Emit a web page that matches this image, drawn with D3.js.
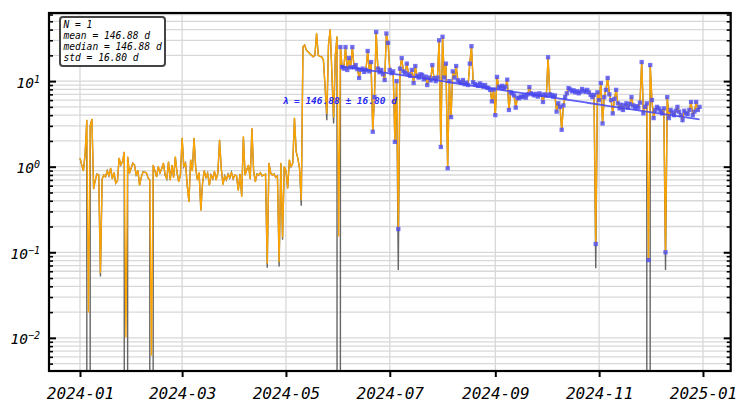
<!DOCTYPE html>
<html>
<head>
<meta charset="utf-8">
<script src="https://cdn.jsdelivr.net/npm/d3@7"></script>
<style>
  body { margin: 0; background: #fff; }
  text { font-family: "DejaVu Sans Mono", monospace; font-style: italic; }
</style>
</head>
<body>
<svg id="chart" width="739" height="405"></svg>
<script>
// Daily series, one value per day starting at seriesStart
const seriesStart = "2024-01-01";
const dailyValues = [
  1.26, 1.05, 0.9, 1.4, 3.5, 0.02, 3.0, 3.6, 0.55, 0.7,
  0.82, 0.8, 0.058, 0.72, 0.8, 0.76, 0.9, 0.78, 0.96, 0.72,
  0.85, 0.64, 0.68, 1.26, 1.05, 1.15, 1.48, 0.0103, 1.3, 0.84,
  0.95, 1.1, 1.05, 0.8, 0.9, 0.61, 0.75, 0.87, 0.86, 0.85,
  0.74, 0.7, 0.0063, 1.04, 0.9, 0.76, 1.0, 0.85, 0.95, 1.1,
  0.8, 0.72, 1.14, 0.7, 1.04, 0.75, 1.3, 0.85, 0.67, 0.8,
  2.15, 1.0, 1.1, 0.6, 0.39, 1.2, 0.9, 2.15, 0.95, 0.7,
  0.85, 0.31, 0.64, 0.9, 0.75, 0.84, 0.61, 0.8, 0.72, 0.88,
  0.7, 0.85, 2.05, 0.95, 0.62, 0.78, 0.7, 0.82, 0.74, 0.86,
  0.72, 0.8, 0.78, 0.53, 0.82, 0.45, 2.24, 0.8, 0.92, 1.04,
  0.72, 2.8, 0.9, 0.67, 0.82, 0.8, 0.85, 0.78, 0.8, 0.82,
  0.075, 1.1, 0.85, 0.8, 0.82, 0.75, 0.78, 0.078, 1.1, 0.152,
  1.0, 0.9, 0.56, 1.2, 1.0, 1.1, 3.7, 1.5, 1.25, 0.95,
  0.41, 25.2, 26.4, 23, 22, 21, 20, 19.2, 20, 36,
  20, 19.5, 19.2, 17.7, 8.6, 4.2, 26.4, 40, 12.3, 3.8,
  20, 33, 0.155, 25, 14.6, 14, 25, 13.5, 18.6, 14.5,
  25, 14.5, 15.4, 13.8, 10.9, 13.5, 14, 12.8, 13.5, 22.5,
  13, 16.7, 2.56, 6.5, 37.5, 14, 12.7, 13.5, 12, 10.3,
  36, 28, 13.5, 12.4, 13, 1.95, 10, 0.187, 14, 18.6,
  13, 12.5, 16, 12, 11.5, 13.5, 9.5, 15, 11.5, 11,
  12, 11.8, 10.5, 11.3, 9, 11, 10.2, 15.4, 10.8, 10,
  11, 30, 1.7, 33, 11, 16, 0.96, 10, 3.8, 13,
  11, 15, 10.2, 9.8, 9.5, 10.3, 9.2, 9.6, 9, 16,
  25.6, 9.7, 9.2, 9, 8.8, 9.4, 9, 8.6, 9, 8.4,
  8.3, 7.9, 5.8, 8, 4, 11.2, 8.6, 8.4, 8.8, 8.2,
  8.6, 10.4, 4.6, 7.4, 7.2, 6.8, 4.9, 6.4, 6.3, 6.6,
  6.5, 6.8, 6.4, 7, 8.5, 7.2, 7, 6.8, 7.1, 6.6,
  7.2, 6.9, 5.7, 7, 6.8, 19, 7, 6.9, 6.6, 6.8,
  4.4, 5.5, 5, 2.7, 5.2, 6.5, 7.2, 8.3, 8, 7.6,
  7.8, 7.4, 7.6, 7.2, 7.5, 8.1, 7.7, 7.5, 7.9, 7.4,
  6.9, 6.5, 6.9, 0.125, 7.4, 6, 9.5, 3.2, 6.5, 7.9,
  10.9, 7, 6, 4.2, 6.2, 7.9, 5.5, 4.8, 5.3, 4.6,
  5.2, 5.5, 4.9, 5.4, 6.5, 5.2, 4.9, 5.1, 4.9, 5.6,
  16.7, 4.2, 5, 5.5, 0.081, 15.4, 6, 3.7, 4.6, 5,
  4.8, 4.5, 4.2, 4.8, 0.1, 6.5, 3.7, 4.6, 4.3, 4.0,
  4.5, 5, 4.4, 4, 3.5, 4.5, 4.2, 4.1, 4.6, 5.7,
  4, 4.4, 5.7, 4.6, 5
];
// Raw trace: equals the daily series except on these days [dayIndex, value]
const rawDips = [
  [5, 0], [12, 0.052], [27, 0], [42, 0], [110, 0.066], [117, 0.068],
  [119, 0.14], [130, 0.35], [145, 3.5], [149, 3.2], [152, 0],
  [187, 0.062], [303, 0.065], [334, 0], [344, 0.062]
];
// Decay fit over the marked window
const fitStartDay = 153;
const fitEndDay = 364;
const fitAmplitude = 15;
const lambdaDays = 146.88;
const lambdaStd = 16.80;
const statsLines = ["N = 1", "mean = 146.88 d", "median = 146.88 d", "std = 16.80 d"];
const xTickLabels = ["2024-01", "2024-03", "2024-05", "2024-07", "2024-09", "2024-11", "2025-01"];
const yTickExponents = [-2, -1, 0, 1];

const svg = d3.select("#chart");
const plot = { left: 49, right: 730.7, top: 13, bottom: 371 };

const x = d3.scaleUtc()
  .domain([new Date(Date.UTC(2023, 11, 13, 19)), new Date(Date.UTC(2025, 0, 17, 7))])
  .range([plot.left, plot.right]);
const y = d3.scaleLog()
  .domain([0.0041, 62.5])
  .range([plot.bottom, plot.top]);
const yc = v => y(Math.max(v, 1e-300));

const t0 = d3.utcParse("%Y-%m-%d")(seriesStart);
const dayDate = i => d3.utcDay.offset(t0, i);

const series = dailyValues.map((v, i) => ({ date: dayDate(i), v }));
const rawMap = new Map(rawDips);
const raw = dailyValues.map((v, i) => ({ date: dayDate(i), v: rawMap.has(i) ? rawMap.get(i) : v }));
const marked = series.filter((d, i) => i >= fitStartDay);

// gridlines
const [lo, hi] = y.domain();
const minorVals = [], majorVals = [];
for (let e = -3; e <= 1; e++) {
  for (let m = 1; m <= 9; m++) {
    const v = m * Math.pow(10, e);
    if (v >= lo && v <= hi) (m === 1 ? majorVals : minorVals).push(v);
  }
}
const grid = svg.append("g");
grid.selectAll("line.h").data(minorVals.concat(majorVals)).join("line")
  .attr("x1", plot.left).attr("x2", plot.right)
  .attr("y1", d => y(d)).attr("y2", d => y(d))
  .attr("stroke", "#d8d8d8").attr("stroke-width", 1.3);
const xTickDates = xTickLabels.map(s => d3.utcParse("%Y-%m")(s));
grid.selectAll("line.v").data(xTickDates).join("line")
  .attr("x1", d => x(d)).attr("x2", d => x(d))
  .attr("y1", plot.top).attr("y2", plot.bottom)
  .attr("stroke", "#d8d8d8").attr("stroke-width", 1.3);

// data
svg.append("clipPath").attr("id", "clip").append("rect")
  .attr("x", plot.left).attr("y", plot.top)
  .attr("width", plot.right - plot.left).attr("height", plot.bottom - plot.top);
const data = svg.append("g").attr("clip-path", "url(#clip)");
const line = d3.line().x(d => x(d.date)).y(d => yc(d.v));

data.append("path").datum(raw).attr("d", line)
  .attr("fill", "none").attr("stroke", "#666").attr("stroke-width", 1.4);
data.append("path").datum(series).attr("d", line)
  .attr("fill", "none").attr("stroke", "#ffa500").attr("stroke-width", 1.35)
  .attr("stroke-linejoin", "round");

const ms = 4.3;
data.selectAll("rect.m").data(marked).join("rect")
  .attr("x", d => x(d.date) - ms / 2).attr("y", d => y(d.v) - ms / 2)
  .attr("width", ms).attr("height", ms)
  .attr("fill", "#4d4df2").attr("fill-opacity", 0.8);

const fit = d3.range(fitStartDay, fitEndDay + 1).map(i => ({
  date: dayDate(i), v: fitAmplitude * Math.exp(-(i - fitStartDay) / lambdaDays)
}));
data.append("path").datum(fit).attr("d", line)
  .attr("fill", "none").attr("stroke", "#4444f5").attr("stroke-width", 1.8)
  .attr("stroke-opacity", 0.85);

// axes
const xAxis = d3.axisBottom(x).tickValues(xTickDates)
  .tickFormat(d3.utcFormat("%Y-%m")).tickSizeInner(6).tickSizeOuter(0).tickPadding(11);
const gx = svg.append("g").attr("transform", `translate(0,${plot.bottom})`).call(xAxis);
gx.select(".domain").remove();
gx.selectAll(".tick line").attr("stroke", "#000").attr("stroke-width", 2);
gx.selectAll(".tick text").attr("font-size", 16).attr("fill", "#000")
  .attr("font-family", "DejaVu Sans Mono").attr("font-style", "italic");

const majorTicks = yTickExponents.map(e => Math.pow(10, e));
const gyL = svg.append("g").attr("transform", `translate(${plot.left},0)`)
  .call(d3.axisLeft(y).tickValues(majorTicks).tickSize(-7).tickPadding(9));
gyL.select(".domain").remove();
gyL.selectAll(".tick line").attr("stroke", "#000").attr("stroke-width", 2);
gyL.selectAll(".tick text").each(function (d) {
  const t = d3.select(this);
  const e = Math.round(Math.log10(d));
  t.text(null).attr("dy", 6).attr("font-size", 14.5).attr("fill", "#000")
    .attr("font-family", "DejaVu Sans Mono").attr("font-style", "italic");
  t.append("tspan").text("10");
  t.append("tspan").attr("dy", -5).attr("font-size", 10)
    .text(e < 0 ? "\u2212" + Math.abs(e) : String(e));
});
const gyLm = svg.append("g").attr("transform", `translate(${plot.left},0)`)
  .call(d3.axisLeft(y).tickValues(minorVals).tickSize(-4).tickFormat(""));
gyLm.select(".domain").remove();
gyLm.selectAll(".tick line").attr("stroke", "#000").attr("stroke-width", 1.6);

const gyR = svg.append("g").attr("transform", `translate(${plot.right},0)`)
  .call(d3.axisRight(y).tickValues(majorTicks).tickSize(-7).tickFormat(""));
gyR.select(".domain").remove();
gyR.selectAll(".tick line").attr("stroke", "#000").attr("stroke-width", 2);
const gyRm = svg.append("g").attr("transform", `translate(${plot.right},0)`)
  .call(d3.axisRight(y).tickValues(minorVals).tickSize(-4).tickFormat(""));
gyRm.select(".domain").remove();
gyRm.selectAll(".tick line").attr("stroke", "#000").attr("stroke-width", 1.6);

// frame
svg.append("rect")
  .attr("x", plot.left).attr("y", plot.top)
  .attr("width", plot.right - plot.left).attr("height", plot.bottom - plot.top)
  .attr("fill", "none").attr("stroke", "#000").attr("stroke-width", 2.2);

// fit annotation
svg.append("text")
  .attr("x", 282.5).attr("y", 103.5)
  .attr("font-size", 9.5).attr("font-weight", "bold").attr("fill", "#2a2af5")
  .text(`\u03bb = ${lambdaDays.toFixed(2)} \u00b1 ${lambdaStd.toFixed(2)} d`);

// stats box
svg.append("rect")
  .attr("x", 60).attr("y", 17).attr("width", 105).attr("height", 49)
  .attr("rx", 3).attr("fill", "#fff").attr("stroke", "#444").attr("stroke-width", 2);
svg.append("g").selectAll("text").data(statsLines).join("text")
  .attr("x", 63.5).attr("y", (d, i) => 27.6 + i * 11)
  .attr("font-size", 9.6).attr("fill", "#000")
  .text(d => d);
</script>
</body>
</html>
